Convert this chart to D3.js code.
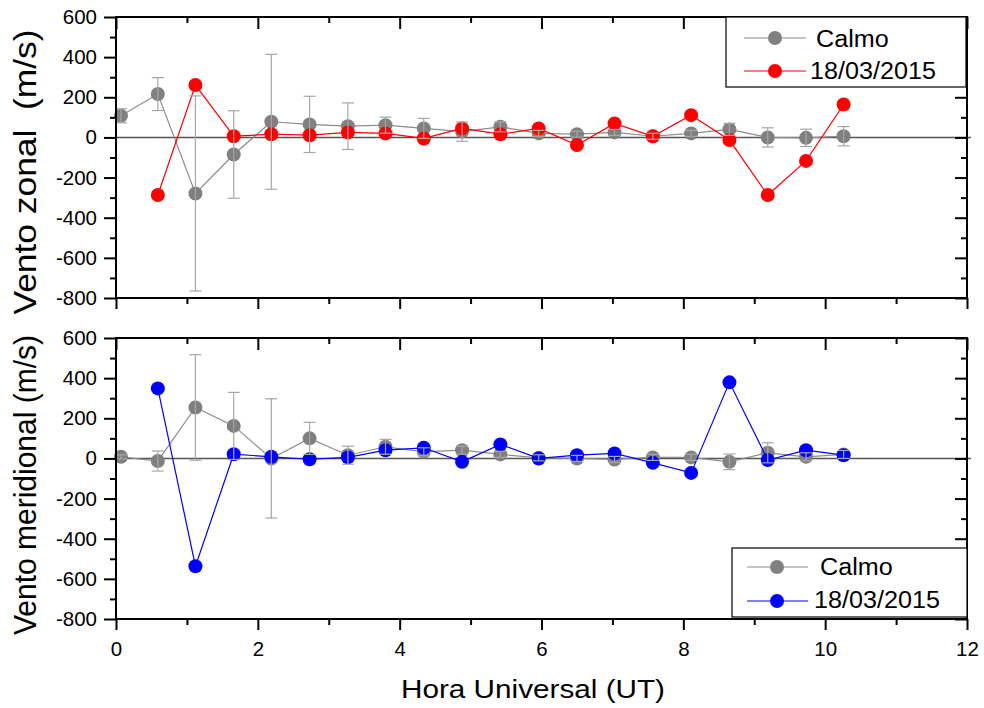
<!DOCTYPE html>
<html>
<head>
<meta charset="utf-8">
<script src="https://cdn.jsdelivr.net/npm/d3@7"></script>
<style>
  html, body { margin: 0; padding: 0; background: #fff; }
  svg { display: block; font-family: "Liberation Sans", Arial, sans-serif; }
  text { white-space: pre; }
</style>
</head>
<body>
<svg id="chart" width="984" height="708"></svg>
<script>
// ---------------- data ----------------
const hours = [0.07, 0.59, 1.12, 1.66, 2.19, 2.73, 3.27, 3.80, 4.34, 4.88, 5.42, 5.96, 6.50, 7.03, 7.57, 8.11, 8.65, 9.19, 9.73, 10.26];
const stormHours = hours.slice(1);

const zonalCalmo    = [108, 216, -279, -85, 78, 65, 56, 61, 45, 29, 53, 20, 16, 25, 6, 20, 40, 0, -2, 6];
const zonalCalmoErr = [35, 82, 486, 218, 336, 140, 116, 40, 50, 48, 25, 15, 15, 15, 15, 15, 30, 48, 43, 48];
const zonalStorm    = [-287, 261, 6, 16, 11, 25, 20, -5, 45, 16, 45, -38, 70, 6, 111, -13, -287, -117, 164];

const meridCalmo    = [8, -13, 254, 162, 0, 100, 16, 58, 33, 41, 20, 3, 0, -5, 5, 5, -17, 28, 8, 20];
const meridCalmoErr = [10, 50, 263, 167, 297, 80, 45, 37, 20, 20, 15, 15, 15, 15, 15, 15, 39, 50, 20, 20];
const meridStorm    = [349, -537, 21, 8, -4, 5, 41, 53, -17, 70, 0, 16, 25, -22, -72, 379, -8, 41, 16];

const yMajorTicks = [-800, -600, -400, -200, 0, 200, 400, 600];
const yMinorTicks = [-700, -500, -300, -100, 100, 300, 500];
const xMajorTicks = [0, 2, 4, 6, 8, 10, 12];
const xMinorTicks = [1, 3, 5, 7, 9, 11];

const legendLabels = ["Calmo", "18/03/2015"];
const yTitles = ["Vento zonal  (m/s)", "Vento meridional (m/s)"];
const xTitle = "Hora Universal (UT)";

// ---------------- layout ----------------
const svg = d3.select("#chart");
const left = 116, right = 967;
const x = d3.scaleLinear().domain([0, 12]).range([left, right]);
const fmt = d => String(d);

const panels = [
  { top: 17, bottom: 298, calmo: zonalCalmo, err: zonalCalmoErr, storm: zonalStorm, color: "#ff0000",
    title: yTitles[0], titleY: 172, titleLen: 285, showX: false,
    legend: { x0: 726, y0: 17, x1: 966, y1: 87, rows: [38, 71], lx0: 744, lx1: 806, mx: 775, tx: [816, 810], ty: [47, 79] } },
  { top: 338, bottom: 619, calmo: meridCalmo, err: meridCalmoErr, storm: meridStorm, color: "#0000ff",
    title: yTitles[1], titleY: 485, titleLen: 300, showX: true,
    legend: { x0: 732, y0: 548, x1: 967, y1: 617, rows: [567, 601], lx0: 747, lx1: 808, mx: 777, tx: [820, 814], ty: [575, 608] } }
];

const grayMarker = "#808080", grayLine = "#8c8c8c", errColor = "#a6a6a6";

function stretch(sel, k) {
  sel.each(function () {
    const w = this.getComputedTextLength();
    this.setAttribute("textLength", (w * k).toFixed(1));
    this.setAttribute("lengthAdjust", "spacingAndGlyphs");
  });
}

panels.forEach(p => {
  const y = d3.scaleLinear().domain([-800, 600]).range([p.bottom, p.top]);
  const g = svg.append("g");

  // zero line
  g.append("line")
    .attr("x1", left).attr("x2", right + 4)
    .attr("y1", y(0)).attr("y2", y(0))
    .attr("stroke", "#555").attr("stroke-width", 1.6);

  const line = d3.line().x(d => x(d[0])).y(d => y(d[1]));
  const calmPts = hours.map((h, i) => [h, p.calmo[i], p.err[i]]);
  const stormPts = stormHours.map((h, i) => [h, p.storm[i]]);

  // calm line + markers
  g.append("path").datum(calmPts).attr("d", line)
    .attr("fill", "none").attr("stroke", grayLine).attr("stroke-width", 1.2);
  g.selectAll(".cm").data(calmPts).join("circle")
    .attr("cx", d => x(d[0])).attr("cy", d => y(d[1])).attr("r", 7)
    .attr("fill", grayMarker);

  // storm line + markers
  g.append("path").datum(stormPts).attr("d", line)
    .attr("fill", "none").attr("stroke", p.color).attr("stroke-width", 1.2);
  g.selectAll(".sm").data(stormPts).join("circle")
    .attr("cx", d => x(d[0])).attr("cy", d => y(d[1])).attr("r", 7)
    .attr("fill", p.color);

  // error bars (calm)
  const eb = g.append("g").attr("stroke", errColor).attr("stroke-width", 1.2);
  calmPts.forEach(d => {
    const cx = x(d[0]), yt = y(d[1] + d[2]), yb = y(d[1] - d[2]);
    eb.append("line").attr("x1", cx).attr("x2", cx).attr("y1", yt).attr("y2", yb);
    eb.append("line").attr("x1", cx - 6).attr("x2", cx + 6).attr("y1", yt).attr("y2", yt);
    eb.append("line").attr("x1", cx - 6).attr("x2", cx + 6).attr("y1", yb).attr("y2", yb);
  });

  // axes
  const axStyle = sel => {
    sel.select(".domain").remove();
    sel.selectAll(".tick line").attr("stroke", "#000").attr("stroke-width", 2);
  };
  const la = g.append("g").attr("transform", `translate(${left},0)`)
    .call(d3.axisLeft(y).tickValues(yMajorTicks).tickSize(12).tickPadding(7).tickFormat(fmt))
    .call(axStyle);
  la.selectAll("text").attr("font-size", 20.5).attr("fill", "#000").attr("font-family", "Liberation Sans, Arial, sans-serif");
  g.append("g").attr("transform", `translate(${left},0)`)
    .call(d3.axisLeft(y).tickValues(yMinorTicks).tickSize(6).tickFormat(""))
    .call(axStyle);
  g.append("g").attr("transform", `translate(${right},0)`)
    .call(d3.axisRight(y).tickValues(yMajorTicks).tickSize(-12).tickFormat(""))
    .call(axStyle);
  g.append("g").attr("transform", `translate(${right},0)`)
    .call(d3.axisRight(y).tickValues(yMinorTicks).tickSize(-6).tickFormat(""))
    .call(axStyle);
  g.append("g").attr("transform", `translate(0,${p.top})`)
    .call(d3.axisTop(x).tickValues(xMajorTicks).tickSize(-12).tickFormat(""))
    .call(axStyle);
  g.append("g").attr("transform", `translate(0,${p.top})`)
    .call(d3.axisTop(x).tickValues(xMinorTicks).tickSize(-6).tickFormat(""))
    .call(axStyle);
  const ba = g.append("g").attr("transform", `translate(0,${p.bottom})`)
    .call(d3.axisBottom(x).tickValues(xMajorTicks).tickSize(11).tickPadding(11)
      .tickFormat(p.showX ? fmt : ""))
    .call(axStyle);
  ba.selectAll("text").attr("font-size", 20.5).attr("fill", "#000").attr("font-family", "Liberation Sans, Arial, sans-serif");
  g.append("g").attr("transform", `translate(0,${p.bottom})`)
    .call(d3.axisBottom(x).tickValues(xMinorTicks).tickSize(6).tickFormat(""))
    .call(axStyle);

  // frame
  g.append("rect").attr("x", left).attr("y", p.top)
    .attr("width", right - left).attr("height", p.bottom - p.top)
    .attr("fill", "none").attr("stroke", "#000").attr("stroke-width", 2);

  // y title
  svg.append("text")
    .attr("transform", `translate(36,${p.titleY}) rotate(-90)`)
    .attr("text-anchor", "middle")
    .attr("font-size", 31)
    .attr("textLength", p.titleLen).attr("lengthAdjust", "spacingAndGlyphs")
    .text(p.title);

  // legend
  const L = p.legend;
  const lg = svg.append("g");
  lg.append("rect").attr("x", L.x0).attr("y", L.y0)
    .attr("width", L.x1 - L.x0).attr("height", L.y1 - L.y0)
    .attr("fill", "#fff").attr("stroke", "#000").attr("stroke-width", 1.2);
  const legColors = [[grayLine, grayMarker], [p.color, p.color]];
  legendLabels.forEach((lab, i) => {
    lg.append("line").attr("x1", L.lx0).attr("x2", L.lx1)
      .attr("y1", L.rows[i]).attr("y2", L.rows[i])
      .attr("stroke", legColors[i][0]).attr("stroke-width", 1.2);
    lg.append("circle").attr("cx", L.mx).attr("cy", L.rows[i]).attr("r", 7)
      .attr("fill", legColors[i][1]);
    const t = lg.append("text").attr("x", L.tx[i]).attr("y", L.ty[i])
      .attr("font-size", 23.5).attr("fill", "#000").text(lab);
    stretch(t, 1.07);
  });
});

// x title
svg.append("text")
  .attr("x", 533).attr("y", 698)
  .attr("text-anchor", "middle")
  .attr("font-size", 25)
  .attr("textLength", 264).attr("lengthAdjust", "spacingAndGlyphs")
  .text(xTitle);
</script>
</body>
</html>
